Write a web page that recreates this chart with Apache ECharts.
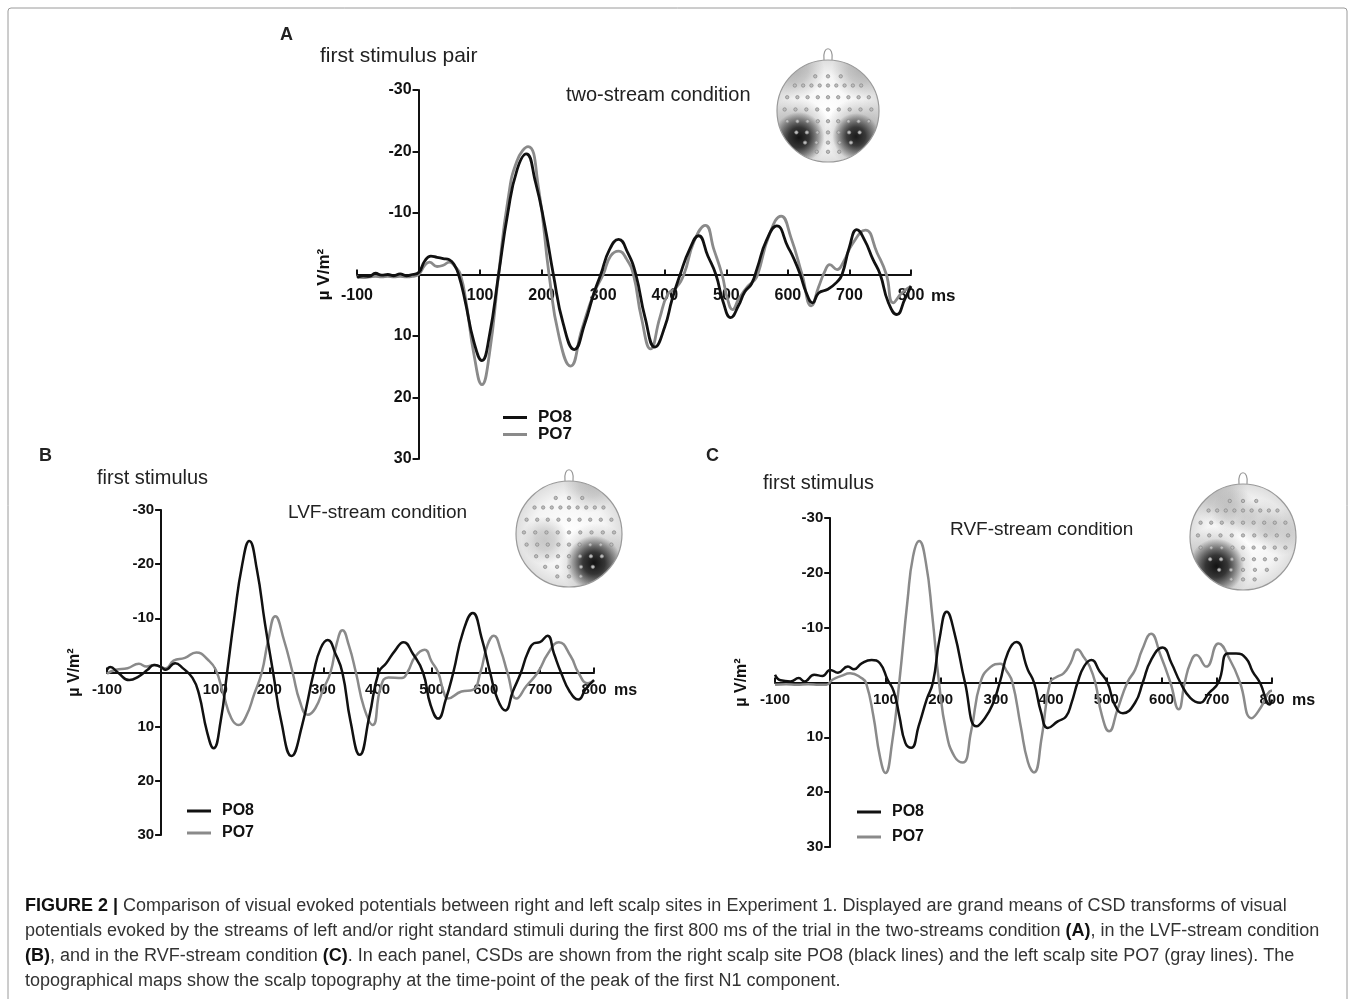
<!DOCTYPE html>
<html>
<head>
<meta charset="utf-8">
<script src="https://cdn.jsdelivr.net/npm/echarts@6/dist/echarts.min.js"></script>
<style>
  html, body { margin: 0; padding: 0; background: #fff; }
  #chart { width: 1355px; height: 999px; }
</style>
</head>
<body>
<div id="chart"></div>
<script>
// axis ranges (ms, µV/m²)
const timeRange = [-100, 800];
const ampRange = [-30, 30];
const seriesNames = ["PO8", "PO7"];

// Panel A: two-stream condition, [ms, µV/m²]
const aPO8 = [[-100,0.5],[-90,0.2],[-80,0.3],[-70,-0.2],[-60,0.1],[-50,0],[-40,0.2],[-30,-0.1],[-20,0.2],[-10,0],[0,-0.3],[10,-2.2],[20,-3],[30,-2.8],[40,-2.6],[50,-2.4],[58,-1.6],[65,0],[75,4],[90,11],[103,14],[115,10],[130,0],[145,-10],[160,-17],[175,-19.6],[190,-15],[205,-8],[219,0],[235,8],[253,12.2],[270,8],[285,3],[296,0],[310,-4],[325,-5.7],[340,-3.5],[353,0],[368,7],[384,11.8],[400,8.5],[412,4],[425,0],[440,-4],[455,-6.3],[470,-3],[483,0],[495,4.5],[507,7],[520,5],[530,2.8],[541,1.5],[550,-1],[565,-5.5],[582,-7.9],[600,-4.5],[610,-2.5],[620,0],[630,3],[640,4.6],[650,3],[665,2.4],[680,1.2],[688,0],[700,-4.5],[712,-7.3],[725,-5.5],[738,-2.5],[750,0],[763,4.5],[777,6.5],[790,4],[800,1.9]];
const aPO7 = [[-100,0.3],[-90,0.5],[-80,0.4],[-70,0.3],[-60,0.4],[-50,0.3],[-40,0.4],[-30,0.3],[-20,0.4],[-10,0.3],[0,0],[10,-1.5],[18,-2],[30,-1.3],[40,-1.5],[50,-2],[60,-1.2],[68,0],[78,5],[90,13],[103,17.9],[115,13],[130,0],[145,-12],[160,-18.5],[178,-20.8],[195,-14],[212,0],[228,10],[247,14.9],[265,9],[285,3],[300,0],[312,-3],[325,-3.8],[338,-2.5],[349,0],[362,7],[377,12.1],[392,7],[405,3.2],[418,2.2],[431,0],[448,-5.5],[466,-8],[480,-4],[493,0],[502,4],[510,5.7],[520,4],[535,1.9],[545,1],[551,0],[570,-6.5],[589,-9.5],[605,-6],[623,0],[638,5.1],[650,2],[660,-0.5],[668,-1.6],[680,-0.8],[690,-2],[705,-5],[726,-7.2],[745,-3.5],[760,0],[771,4.6],[785,3],[800,1.9]];

// Panel B: LVF-stream condition
const bPO8 = [[-100,-0.5],[-94,-1],[-80,0],[-59,1.4],[-41,0.7],[-25,-0.5],[-13,-1.4],[0,-1],[8,-0.5],[26,-1.7],[40,-0.8],[58,1],[70,4],[85,11],[97,14],[110,9],[122,0],[135,-10],[150,-20],[163,-24.3],[177,-19],[192,-9],[207,0],[222,9],[241,15.4],[260,10],[282,0],[295,-4.5],[308,-6],[322,-3.5],[335,0],[350,9],[367,15.2],[385,8],[402,0],[416,-1.7],[432,-4],[448,-5.6],[465,-3.5],[484,0],[498,6],[512,8.5],[526,5],[540,0],[558,-7.5],[576,-11],[592,-6.5],[608,0],[622,5],[636,7],[650,3.5],[665,0],[677,-3.5],[689,-5.4],[700,-5.6],[714,-6.8],[726,-3.5],[739,0],[755,3.5],[771,5],[785,3],[800,1.4]];
const bPO7 = [[-100,0.2],[-84,-0.5],[-62,-0.8],[-41,-1.6],[-27,-1.1],[-13,-1.4],[0,-1],[9,-0.8],[23,-2.2],[44,-2.7],[65,-3.7],[87,-2.3],[101,-0.5],[115,4],[130,8.5],[143,9.7],[157,8.1],[172,4],[186,0],[198,-6],[211,-10.4],[227,-6],[243,0],[257,5.5],[271,7.8],[285,6.6],[300,3],[313,0],[325,-5.5],[335,-7.8],[347,-5],[360,0],[375,6.5],[391,9.7],[406,2.6],[420,0.9],[445,1],[455,0],[470,-3],[487,-4.2],[500,-2],[512,0],[522,3.5],[530,4.8],[555,3.5],[576,3.2],[590,0],[603,-5],[615,-6.8],[628,-4],[640,0],[657,4.8],[675,2.5],[696,0],[715,-3.5],[735,-5.6],[757,-3],[771,0],[789,2],[800,1.4]];

// Panel C: RVF-stream condition
const cPO8 = [[-100,-1.4],[-90,-0.4],[-72,-0.2],[-57,-0.8],[-47,-0.2],[-29,-1.4],[-14,-1.2],[0,-2.3],[14,-1.8],[32,-2.9],[43,-2.4],[57,-3.5],[75,-4.1],[90,-3.5],[104,-0.5],[115,1.6],[125,6],[136,11],[147,11.9],[160,8],[175,3],[186,0],[198,-8],[211,-12.9],[225,-9],[244,0],[265,8],[280,6.5],[294,4],[307,0],[322,-5.5],[337,-7.4],[358,-2.3],[369,0],[382,5.5],[394,8.3],[412,7.1],[427,6.2],[437,3.7],[448,0],[460,-3],[473,-4.1],[488,-2],[502,0],[515,4],[530,5.6],[552,3.7],[566,0],[581,-4.1],[602,-6.4],[618,-3.5],[634,0],[652,2.8],[670,3.7],[685,2],[703,0],[720,-5.3],[735,-5.3],[753,-4.4],[765,-2],[778,0],[796,4],[800,3.1]];
const cPO7 = [[-100,0.4],[-80,0.3],[-60,0.4],[-40,0.3],[-20,0.4],[-7,0.4],[4,-0.5],[20,-1.2],[36,-1.7],[57,-0.8],[65,0.1],[78,6],[90,13.5],[100,16.5],[112,11],[125,0],[140,-15],[150,-23],[161,-25.8],[173,-22],[185,-12],[197,0],[210,9],[225,13.5],[240,14.6],[255,9],[272,0],[290,-2.8],[308,-3.4],[320,-2],[330,0],[345,8],[358,14.5],[369,16.4],[383,10],[398,0],[410,-1],[423,-1.7],[435,-3.5],[448,-6],[460,-4.5],[470,-2.9],[480,0],[492,6],[505,8.9],[520,5],[538,0],[552,-2.3],[565,-6],[581,-8.9],[598,-5],[616,0],[631,4.9],[642,0],[652,-3.5],[663,-5],[681,-2.9],[703,-7.1],[724,-4.1],[742,0],[763,6.5],[780,4.5],[796,1.6],[800,1.5]];

const FONT = "'Liberation Sans', Arial, sans-serif";

var chart = echarts.init(document.getElementById("chart"));

// 每个面板的位置
const panels = [
  { grid: { left: 357, top: 90, width: 554, height: 369 }, fs: 16, nfs: 17, gap: 86, margin: 13, po8: aPO8, po7: aPO7, lw: 2.8,
    legend: { left: 498, top: 404, gap: 0 } },
  { grid: { left: 107, top: 510, width: 487, height: 325 }, fs: 15, nfs: 16, gap: 79, margin: 10, po8: bPO8, po7: bPO7, lw: 2.5,
    legend: { left: 182, top: 798, gap: 6 } },
  { grid: { left: 775, top: 518, width: 497, height: 329 }, fs: 15, nfs: 16, gap: 81, margin: 10, po8: cPO8, po7: cPO7, lw: 2.5,
    legend: { left: 852, top: 799, gap: 9 } },
];

function noZero(v) { return v === 0 ? "" : String(v); }

const grids = [], xAxes = [], yAxes = [], series = [], legends = [];
panels.forEach(function (p, i) {
  const g = p.grid;
  // 轴线放在零点处（时间0、幅值0）
  const xOff = -g.height * (0 - ampRange[0]) / (ampRange[1] - ampRange[0]);
  const yOff = -g.width * (0 - timeRange[0]) / (timeRange[1] - timeRange[0]);
  grids.push(Object.assign({ containLabel: false }, g));
  xAxes.push({
    type: "value", gridIndex: i, min: timeRange[0], max: timeRange[1], interval: 100,
    position: "bottom", offset: xOff,
    axisLine: { onZero: false, lineStyle: { color: "#111", width: 2 } },
    axisTick: { inside: true, length: 5, lineStyle: { color: "#111", width: 2 } },
    axisLabel: { formatter: noZero, color: "#111", fontWeight: "bold", fontSize: p.fs, fontFamily: FONT, margin: p.margin },
    splitLine: { show: false },
    name: "ms", nameLocation: "end", nameGap: 20,
    nameTextStyle: { color: "#111", fontWeight: "bold", fontSize: p.fs + 1, fontFamily: FONT, verticalAlign: "top", padding: [p.margin, 0, 0, 0] },
  });
  yAxes.push({
    type: "value", gridIndex: i, inverse: true, min: ampRange[0], max: ampRange[1], interval: 10,
    position: "left", offset: yOff,
    axisLine: { onZero: false, lineStyle: { color: "#111", width: 2 } },
    axisTick: { inside: false, length: 6, lineStyle: { color: "#111", width: 2 } },
    axisLabel: { formatter: noZero, color: "#111", fontWeight: "bold", fontSize: p.fs, fontFamily: FONT, margin: 7 },
    splitLine: { show: false },
    name: "µ V/m²", nameLocation: "middle", nameRotate: 90, nameGap: p.gap,
    nameTextStyle: { color: "#111", fontWeight: "bold", fontSize: p.nfs, fontFamily: FONT },
  });
  series.push({
    name: "PO7", type: "line", xAxisIndex: i, yAxisIndex: i, data: p.po7, smooth: true,
    showSymbol: false, lineStyle: { color: "#8a8a8a", width: p.lw }, itemStyle: { color: "#8a8a8a" }, z: 2,
  });
  series.push({
    name: "PO8", type: "line", xAxisIndex: i, yAxisIndex: i, data: p.po8, smooth: true,
    showSymbol: false, lineStyle: { color: "#111", width: p.lw }, itemStyle: { color: "#111" }, z: 3,
  });
  legends.push({
    data: seriesNames, orient: "vertical", left: p.legend.left, top: p.legend.top,
    icon: "rect", itemWidth: 24, itemHeight: 3, itemGap: p.legend.gap, selectedMode: false,
    textStyle: { color: "#111", fontWeight: "bold", fontSize: p.fs + 1, fontFamily: FONT, padding: [0, 0, 0, 6] },
  });
});

// 头皮地形图
function electrodes() {
  const rows = [[-0.68, 3, 0.25], [-0.5, 9, 0.65], [-0.27, 9, 0.8], [-0.03, 9, 0.85], [0.2, 9, 0.8], [0.42, 7, 0.62], [0.62, 5, 0.45], [0.8, 3, 0.22]];
  const pts = [];
  rows.forEach(function (r) {
    for (let k = 0; k < r[1]; k++) {
      pts.push([-r[2] + (2 * r[2] * k) / (r[1] - 1), r[0]]);
    }
  });
  return pts;
}
function blob(color, alpha) {
  return {
    type: "radial", x: 0.5, y: 0.5, r: 0.5,
    colorStops: [
      { offset: 0, color: "rgba(" + color + "," + alpha + ")" },
      { offset: 0.4, color: "rgba(" + color + "," + alpha * 0.8 + ")" },
      { offset: 1, color: "rgba(" + color + ",0)" },
    ],
  };
}
function head(cx, cy, r, spots) {
  const els = [];
  els.push({ type: "circle", shape: { cx: cx, cy: cy, r: r },
    style: { fill: { type: "radial", x: 0.5, y: 0.5, r: 0.5, colorStops: [{ offset: 0, color: "#ffffff" }, { offset: 0.7, color: "#f4f4f4" }, { offset: 1, color: "#dedede" }] } } });
  spots.forEach(function (s) {
    els.push({ type: "circle", shape: { cx: cx + s[0] * r, cy: cy + s[1] * r, r: s[2] * r }, style: { fill: blob(s[3], s[4]) } });
  });
  electrodes().forEach(function (e) {
    els.push({ type: "circle", shape: { cx: cx + e[0] * r, cy: cy + e[1] * r, r: 1.7 }, style: { fill: "#bdbdbd", stroke: "#858585", lineWidth: 0.7 } });
  });
  els.push({ type: "circle", shape: { cx: cx, cy: cy, r: r + 16 }, style: { fill: "none", stroke: "#fff", lineWidth: 32 } });
  els.push({ type: "circle", shape: { cx: cx, cy: cy, r: r }, style: { fill: "none", stroke: "#999", lineWidth: 1.2 } });
  els.push({ type: "bezierCurve", shape: { x1: cx - 4, y1: cy - r, cpx1: cx - 6, cpy1: cy - r - 15, cpx2: cx + 6, cpy2: cy - r - 15, x2: cx + 4, y2: cy - r },
    style: { fill: "none", stroke: "#999", lineWidth: 1.2 } });
  return els;
}

const G = "140,140,140", D = "15,15,15";
const headA = head(828, 111, 51, [
  [-0.62, -0.78, 0.55, G, 0.5], [0.62, -0.78, 0.55, G, 0.5],
  [-0.62, 0.42, 0.68, G, 0.65], [0.62, 0.42, 0.68, G, 0.65],
  [-0.57, 0.52, 0.5, D, 0.97], [0.55, 0.5, 0.46, D, 0.93],
]);
const headB = head(569, 534, 53, [
  [0.4, -0.9, 0.5, G, 0.4], [-0.45, 0.12, 0.45, G, 0.45],
  [0.5, 0.5, 0.7, G, 0.55], [0.47, 0.55, 0.52, D, 0.98],
]);
const headC = head(1243, 537, 53, [
  [-0.45, -0.78, 0.55, G, 0.4], [-0.15, -0.45, 0.45, G, 0.35], [0.3, -0.28, 0.45, G, 0.35], [0.7, -0.1, 0.45, G, 0.35],
  [-0.5, 0.5, 0.7, G, 0.55], [-0.5, 0.55, 0.52, D, 0.98],
]);

function txt(x, y, s, size, weight) {
  return { type: "text", x: x, y: y, style: { text: s, fill: "#222", font: (weight || "normal") + " " + size + "px " + FONT, textVerticalAlign: "middle" } };
}

const capFont = "18px " + FONT;
const capRich = { b: { fontWeight: "bold", fill: "#111", fontSize: 18, fontFamily: FONT } };
const caption = [
  "{b|FIGURE 2 |} Comparison of visual evoked potentials between right and left scalp sites in Experiment 1. Displayed are grand means of CSD transforms of visual",
  "potentials evoked by the streams of left and/or right standard stimuli during the first 800 ms of the trial in the two-streams condition {b|(A)}, in the LVF-stream condition",
  "{b|(B)}, and in the RVF-stream condition {b|(C)}. In each panel, CSDs are shown from the right scalp site PO8 (black lines) and the left scalp site PO7 (gray lines). The",
  "topographical maps show the scalp topography at the time-point of the peak of the first N1 component.",
];
const captionEls = caption.map(function (line, k) {
  return { type: "text", x: 25, y: 906 + k * 25, style: { text: line, rich: capRich, fill: "#333", font: capFont, textVerticalAlign: "middle" } };
});

const graphics = [
  { type: "rect", shape: { x: 8, y: 8, width: 1339, height: 1010, r: 3 }, style: { fill: "none", stroke: "#9a9a9a", lineWidth: 1 } },
].concat(headA, headB, headC, [
  txt(280, 35, "A", 18, "bold"),
  txt(320, 56, "first stimulus pair", 21),
  txt(566, 95, "two-stream condition", 20),
  txt(39, 456, "B", 18, "bold"),
  txt(97, 478, "first stimulus", 20),
  txt(288, 513, "LVF-stream condition", 19),
  txt(706, 456, "C", 18, "bold"),
  txt(763, 483, "first stimulus", 20),
  txt(950, 530, "RVF-stream condition", 19),
], captionEls);

chart.setOption({
  backgroundColor: "#fff",
  animation: false,
  grid: grids,
  xAxis: xAxes,
  yAxis: yAxes,
  legend: legends,
  series: series,
  graphic: graphics,
});

window.addEventListener("resize", function () {
  chart.resize();
});
</script>
</body>
</html>
